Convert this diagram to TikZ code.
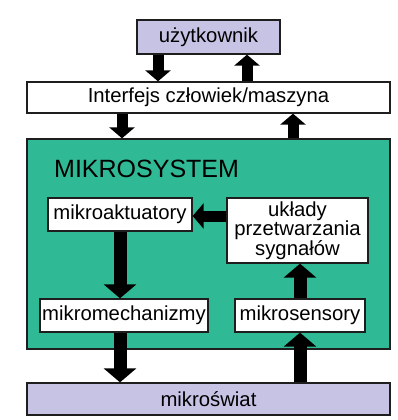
\documentclass[tikz,border=0pt]{standalone}
\usepackage{fontspec}
\setmainfont{Liberation Sans}
\usetikzlibrary{arrows.meta}
\definecolor{violetbox}{HTML}{C6C3E5}
\definecolor{greenbox}{HTML}{2FB995}
\definecolor{edge}{HTML}{1E1E1E}
\tikzset{
  box/.style={draw=edge, line width=1.3pt, inner sep=0pt, align=center,
    font=\fontsize{20.3}{19.5}\selectfont},
  violet/.style={box, fill=violetbox},
  white/.style={box, fill=white},
  bigarrow/.style={line width=13pt, -{Triangle[length=14pt,width=32pt]}},
  smallarrow/.style={line width=11pt, -{Triangle[length=11pt,width=25pt]}},
}
\begin{document}
\begin{tikzpicture}[x=1pt,y=-1pt]
\useasboundingbox (0,0) rectangle (398,420);
% top
\node[violet, minimum width=143pt, minimum height=34pt] (uz) at (208.5,37) {użytkownik};
\node[white, minimum width=363pt, minimum height=31pt] (inter) at (208.5,97.5) {Interfejs człowiek/maszyna};
% green system
\node[box, fill=greenbox, minimum width=363pt, minimum height=210pt] (sys) at (208.5,244) {};
\node[anchor=west, inner sep=0pt, font=\fontsize{25}{25}\selectfont] (title) at (54,169) {MIKROSYSTEM};
\node[white, minimum width=144pt, minimum height=33pt] (akt) at (120,214.5) {mikroaktuatory};
\node[white, minimum width=141pt, minimum height=65pt] (ukl) at (297.5,230.5) {układy\\przetwarzania\\sygnałów};
\node[white, minimum width=168pt, minimum height=33pt] (mech) at (124,315.5) {mikromechanizmy};
\node[white, minimum width=130pt, minimum height=33pt] (sens) at (300,315.5) {mikrosensory};
% bottom
\node[violet, minimum width=363pt, minimum height=32pt] (swiat) at (208.5,399) {mikroświat};
% arrow columns
\coordinate (c1) at (158,0);
\coordinate (c2) at (247,0);
\coordinate (c3) at (122,0);
\coordinate (c4) at (293,0);
\coordinate (c5) at (120,0);
\coordinate (c6) at (300,0);
\coordinate (r1) at (0,216);
% arrows
\draw[smallarrow] (uz.south -| c1) -- (inter.north -| c1);
\draw[smallarrow] (inter.north -| c2) -- (uz.south -| c2);
\draw[smallarrow] (inter.south -| c3) -- (sys.north -| c3);
\draw[smallarrow] (sys.north -| c4) -- (inter.south -| c4);
\draw[smallarrow] (ukl.west |- r1) -- (akt.east |- r1);
\draw[bigarrow] (akt.south -| c5) -- (mech.north -| c5);
\draw[bigarrow] (sens.north -| c6) -- (ukl.south -| c6);
\draw[bigarrow] (mech.south -| c5) -- (swiat.north -| c5);
\draw[bigarrow] (swiat.north -| c6) -- (sens.south -| c6);
\end{tikzpicture}
\end{document}
